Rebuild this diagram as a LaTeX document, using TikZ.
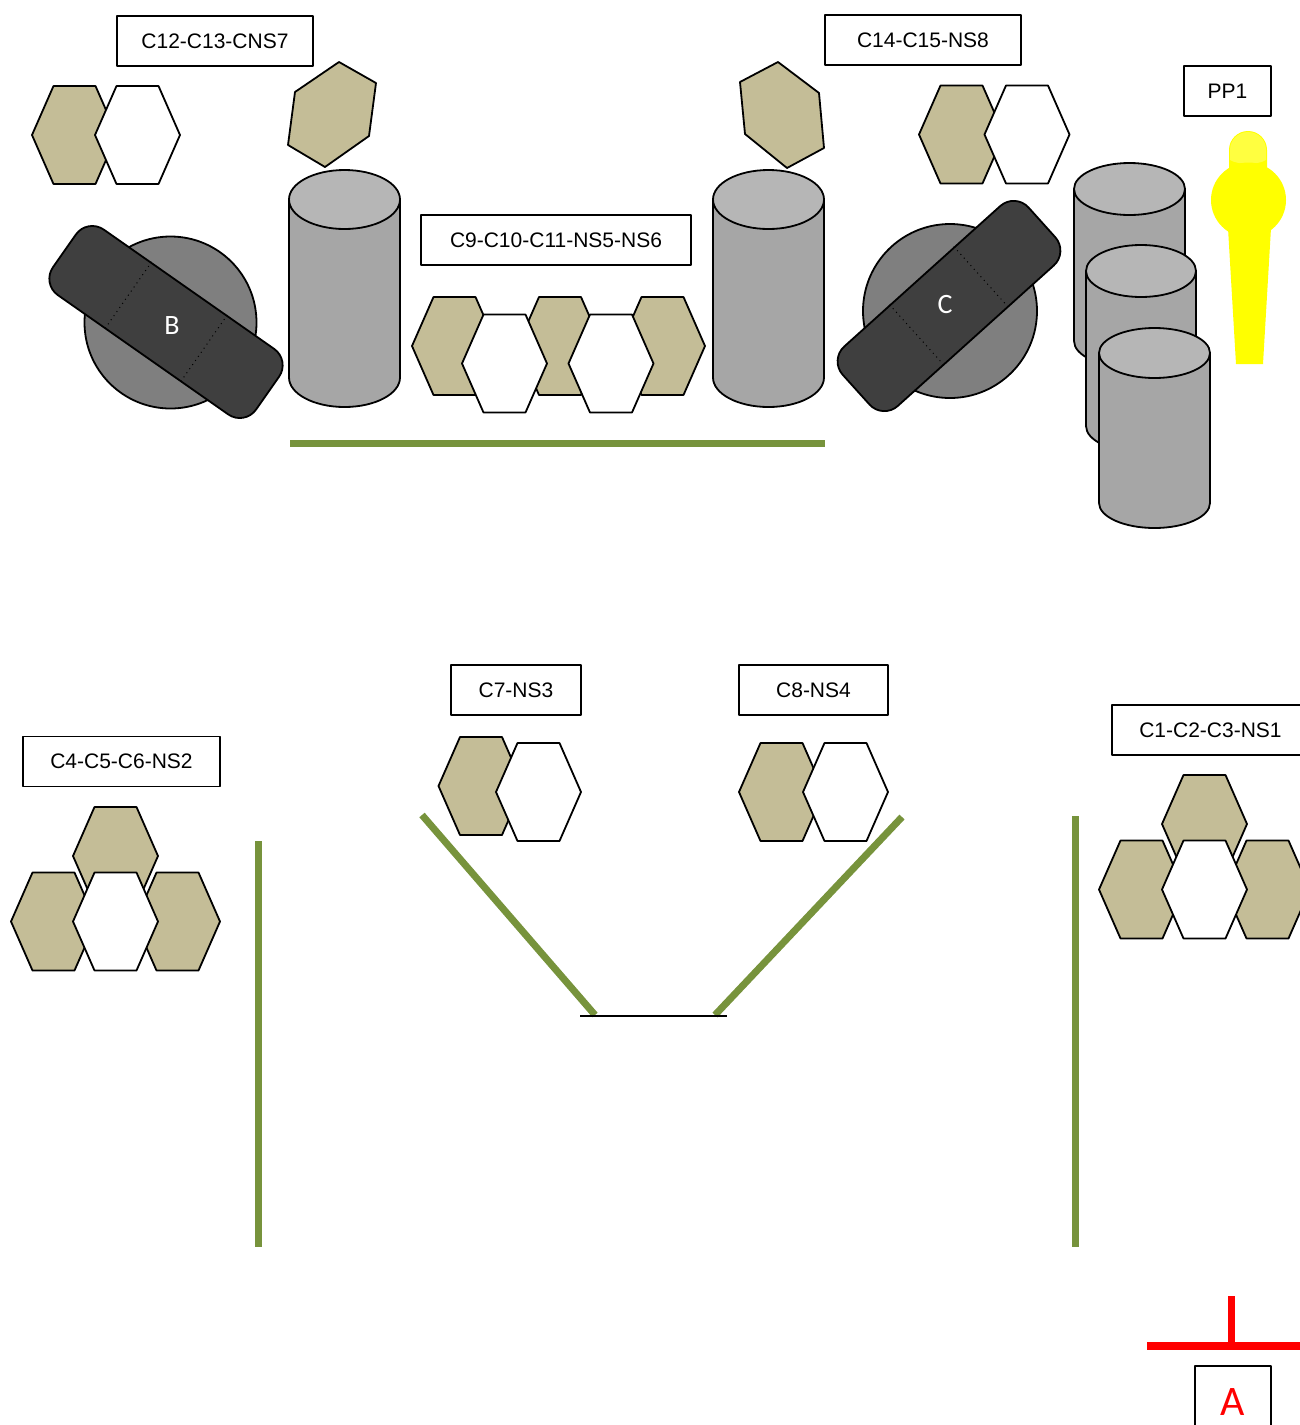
\documentclass[tikz,border=0pt]{standalone}
\usepackage{fontspec}
\setmainfont{Liberation Sans}
\newfontfamily\bandfont{Carlito}
\usepackage{tikz}
\usetikzlibrary{calc}
\usepackage{xcolor}

\definecolor{hextan}{HTML}{C4BD97}
\definecolor{cylside}{HTML}{A6A6A6}
\definecolor{cyltop}{HTML}{B6B6B6}
\definecolor{diskgray}{HTML}{7F7F7F}
\definecolor{banddark}{HTML}{3F3F3F}
\definecolor{membgreen}{HTML}{77933C}
\definecolor{ppyellow}{HTML}{FFFF00}
\definecolor{pphead}{HTML}{FFFF40}

\tikzset{
  hexa/.pic={\draw[pic actions] (-42.5,0) -- (-21,-49) -- (21,-49) -- (42.5,0) -- (21,49) -- (-21,49) -- cycle;},
  tag box/.style={draw, line width=0.9pt, fill=white, inner sep=0pt, minimum height=25pt,
    font=\fontsize{10.5}{12}\selectfont},
  hex line/.style={draw, line width=0.9pt},
  cyl side/.style={draw, line width=0.9pt, fill=cylside},
  cyl top/.style={draw, line width=0.9pt, fill=cyltop},
  disk/.style={circle, draw, line width=0.9pt, fill=diskgray, inner sep=0pt},
  band/.style={rectangle, rounded corners=10pt, draw, line width=0.9pt, fill=banddark,
    minimum height=40pt, inner sep=0pt},
  band label/.style={text=white, font=\bandfont\fontsize{14}{16}\selectfont},
  membrane/.style={draw=membgreen, line width=3.5pt}
}

\begin{document}
\begin{tikzpicture}[x=0.5pt, y=-0.5pt, line join=round]

  \useasboundingbox (0,0) rectangle (1300,1425);

  % name tags
  \foreach \t/\x/\y/\w [count=\i] in {C12-C13-CNS7/215/41/98, C14-C15-NS8/923/40/98,
      PP1/1227.5/91/43.5, C9-C10-C11-NS5-NS6/556/240/135, C7-NS3/516/690/65,
      C8-NS4/813.5/690/74.5, C4-C5-C6-NS2/121.5/761.5/98.5, C1-C2-C3-NS1/1210.5/730/98.5}
    \node [tag box, minimum width=\w pt] (tag-\i) at (\x,\y) {\t};

  % disks with their bands
  \node [disk, minimum size=86pt] (disk-B) at (170.5,322.5) {};
  \node [disk, minimum size=87pt] (disk-C) at (950,311) {};
  \node [band, minimum width=124pt, rotate=-35] (band-B) at (166,322) {};
  \node [band, minimum width=125pt, rotate=42] (band-C) at (949,306) {};
  \foreach \b/\f in {B/0.315, C/0.328}
    \foreach \p in {\f, 1-\f}
      \draw [dotted, line width=0.5pt]
        ($(band-\b.north west)!\p!(band-\b.north east)$) -- ($(band-\b.south west)!\p!(band-\b.south east)$);
  \node [band label] (name-B) at (172,326) {B};
  \node [band label] (name-C) at (945,305) {C};

  % cylinders
  \foreach \cx/\ty/\by/\rx/\ry in {344.5/199.5/377.5/55.5/29.5, 768.5/199.5/377.5/55.5/29.5,
      1129.5/189/341/55.5/26, 1141/271/426/55/26, 1154.5/353/503/55.5/25} {
    \draw [cyl side] (\cx-\rx,\ty) -- (\cx-\rx,\by)
      arc [start angle=180, end angle=0, x radius=\rx, y radius=\ry] -- (\cx+\rx,\ty) -- cycle;
    \draw [cyl top] (\cx,\ty) ellipse [x radius=\rx, y radius=\ry];
  }

  % single tilted hexagons
  \draw [hex line, fill=hextan] (339,62) -- (376,83) -- (369,136) -- (325,167) -- (288,145) -- (295,92) -- cycle;
  \draw [hex line, fill=hextan] (778,62) -- (819,93) -- (824,148) -- (787,168) -- (745,134) -- (740,82) -- cycle;

  % hexagon groups
  \foreach \x/\y/\c [count=\i] in {74.5/135/hextan, 137.5/135/white,
      961.5/134.5/hextan, 1027/134.5/white,
      454.5/346/hextan, 560/346/hextan, 662.5/346/hextan, 504.5/363.5/white, 611/363.5/white,
      481/786/hextan, 538.5/792/white, 781.5/792/hextan, 845.5/792/white,
      115.5/856/hextan, 53.5/921.5/hextan, 177.5/921.5/hextan, 115.5/921.5/white,
      1204.5/824/hextan, 1141.5/889.5/hextan, 1267.5/889.5/hextan, 1204.5/889.5/white}
    \pic [fill=\c, line width=0.9pt, draw] (hex-\i) at (\x,\y) {hexa};

  % PP1 figure
  \fill [ppyellow] (1229,200) -- (1229,150) arc [start angle=180, end angle=360, radius=19] -- (1267,200) -- cycle;
  \fill [pphead] (1230,160) -- (1230,150) arc [start angle=180, end angle=360, radius=18]
    -- (1266,160) .. controls (1258,165) and (1238,165) .. (1230,160);
  \fill [ppyellow] (1248.5,200) circle [radius=37.5];
  \fill [ppyellow] (1228,228) -- (1271,228) -- (1263,364) -- (1236,364) -- cycle;

  % membranes
  \draw [membrane] (290,443) -- (825,443);
  \draw [membrane] (258,841) -- (258,1247);
  \draw [membrane] (1075,816) -- (1075,1247);
  \draw [membrane] (422,815) -- (595,1015);
  \draw [membrane] (902,817) -- (715,1015);
  \draw [line width=0.9pt] (580,1016) -- (727,1016);

  % A marker
  \draw [red, line width=4pt] (1147,1346) -- (1310,1346);
  \draw [red, line width=3.5pt] (1231,1296) -- (1231,1346);
  \draw [line width=0.9pt] (1195,1366) rectangle (1271,1445);
  \node [text=red, font=\bandfont\fontsize{21}{23}\selectfont, inner sep=0pt] (tag-A) at (1233,1402) {A};

\end{tikzpicture}
\end{document}
